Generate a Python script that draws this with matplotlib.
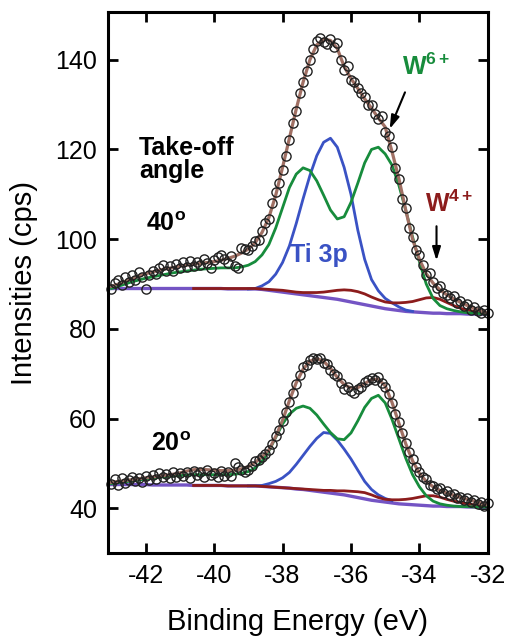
import numpy as np
import matplotlib.pyplot as plt

plt.rcParams['font.family'] = ['Liberation Sans', 'DejaVu Sans']
plt.rcParams['mathtext.fontset'] = 'custom'
plt.rcParams['mathtext.rm'] = 'Liberation Sans'
plt.rcParams['mathtext.bf'] = 'Liberation Sans:bold'
plt.rcParams['axes.unicode_minus'] = False

# Energy grids (eV)
energy_data = np.linspace(-43.0, -32.0, 111)   # measured points, 0.1 eV step
energy_fit = np.linspace(-43.0, -32.0, 56)     # fitted curves, 0.2 eV step

# Measured spectra (cps)
data_40 = [88.8, 90.3, 91.0, 89.8, 91.5, 90.4, 92.0, 91.0, 92.6, 91.5,
           88.8, 92.0, 92.8, 92.2, 93.5, 94.3, 92.8, 94.0, 93.0, 94.5,
           93.5, 94.8, 93.8, 95.2, 94.0, 95.0, 94.3, 95.5, 94.6, 93.5,
           95.3, 96.0, 96.5, 95.5, 94.6, 96.3, 94.0, 93.6, 98.0, 97.8,
           97.5, 98.5, 99.5, 99.8, 101.8, 103.5, 104.6, 108.0, 110.5, 112.5,
           115.5, 118.5, 122.0, 126.0, 128.5, 132.5, 135.0, 137.5, 140.0, 142.5,
           144.2, 144.8, 144.0, 143.5, 144.6, 142.8, 143.8, 140.0, 137.8, 138.5,
           135.5, 135.0, 133.6, 132.5, 131.8, 130.0, 129.8, 128.0, 126.8, 127.5,
           124.0, 123.0, 120.5, 115.8, 113.5, 109.0, 107.0, 102.5, 100.5, 97.5,
           96.5, 94.2, 92.0, 92.5, 90.5, 89.2, 89.5, 88.0, 87.5, 86.8,
           87.3, 85.8, 86.2, 85.0, 85.6, 84.3, 84.8, 84.0, 83.5, 84.2,
           83.5]
data_20 = [45.5, 46.5, 45.2, 46.8, 45.6, 46.3, 47.0, 46.0, 46.8, 45.8,
           47.2, 46.4, 47.5, 46.6, 47.8, 46.9, 47.6, 46.8, 48.0, 47.0,
           47.8, 47.2, 48.2, 46.8, 48.4, 47.4, 48.0, 47.0, 48.6, 47.5,
           47.8, 46.9, 48.4, 47.3, 48.0, 47.2, 50.0, 49.2, 48.6, 48.0,
           48.5, 49.5, 50.5, 50.8, 51.5, 52.0, 53.0, 54.3, 56.2, 57.5,
           59.5, 61.5, 63.8, 65.8, 67.8, 69.8, 71.5, 72.0, 73.0, 73.5,
           73.2, 73.6, 72.5, 72.2, 70.8, 70.0, 69.5, 68.0, 66.5, 67.0,
           66.2, 65.8, 66.5, 67.0, 68.2, 68.6, 69.0, 68.5, 69.2, 68.0,
           67.0, 65.5, 63.5, 61.0, 59.2, 56.8, 54.5, 52.5, 51.0, 49.2,
           48.2, 47.0, 46.5, 45.3, 45.0, 44.3, 44.6, 43.5, 43.8, 42.9,
           43.2, 42.4, 42.6, 41.8, 42.2, 41.4, 41.8, 41.0, 41.3, 40.6,
           41.2]

# Fitted envelope (total)
fit_40 = [89.5, 90.0, 90.6, 91.2, 91.8, 92.3, 92.7, 93.1, 93.4, 93.7,
          94.0, 94.2, 94.4, 94.6, 94.8, 95.0, 95.3, 95.7, 96.2, 96.9,
          97.8, 99.2, 101.5, 104.8, 109.8, 116.0, 122.5, 129.0, 135.0, 140.0,
          143.3, 144.6, 144.3, 142.5, 138.5, 135.8, 133.6, 131.3, 129.2, 127.0,
          125.0, 119.5, 113.5, 106.5, 100.0, 95.5, 92.3, 90.2, 88.7, 87.6,
          86.7, 85.9, 85.2, 84.6, 84.0, 83.5]
fit_20 = [45.8, 46.0, 46.2, 46.4, 46.6, 46.8, 47.0, 47.2, 47.4, 47.6,
          47.9, 48.3, 48.6, 48.7, 48.6, 48.5, 48.4, 48.4, 48.5, 48.8,
          49.3, 50.2, 51.5, 53.0, 56.0, 59.6, 64.0, 68.0, 71.0, 72.8,
          73.4, 72.8, 71.2, 69.2, 67.6, 66.8, 66.9, 67.8, 68.7, 68.8,
          67.3, 63.6, 59.0, 54.4, 50.6, 47.8, 46.0, 44.8, 44.0, 43.4,
          42.9, 42.4, 42.0, 41.6, 41.2, 40.8]

# W6+ doublet component
w6_40 = [89.0, 89.5, 90.0, 90.5, 90.9, 91.3, 91.6, 91.9, 92.2, 92.5,
         92.7, 92.9, 93.1, 93.3, 93.4, 93.5, 93.6, 93.6, 93.6, 93.8,
         94.2, 95.0, 96.5, 98.8, 102.5, 107.0, 111.5, 114.5, 115.9, 115.3,
         113.0, 109.8, 106.5, 104.5, 105.0, 108.2, 112.5, 117.0, 120.0, 120.5,
         119.0, 116.5, 112.0, 106.5, 100.5, 95.0, 90.0, 86.8, 85.2, 84.5,
         84.1, 83.8, 83.6, 83.5, 83.4, 83.3]
w6_20 = [45.5, 45.7, 45.9, 46.1, 46.3, 46.5, 46.7, 46.9, 47.1, 47.2,
         47.3, 47.4, 47.5, 47.5, 47.5, 47.5, 47.5, 47.5, 47.6, 47.8,
         48.2, 49.0, 50.5, 52.8, 55.8, 58.8, 61.0, 62.3, 62.8, 62.3,
         60.8, 58.8, 56.9, 55.5, 55.3, 56.8, 59.5, 62.5, 64.5, 65.2,
         63.5, 59.8, 55.5, 51.2, 47.5, 44.8, 42.8, 41.6, 41.0, 40.7,
         40.5, 40.4, 40.4, 40.3, 40.3, 40.3]

# Shirley-type background
bg_40 = [89.0, 89.0, 89.0, 89.0, 89.0, 89.0, 89.0, 89.0, 89.0, 89.0,
         89.0, 89.0, 89.0, 89.0, 89.0, 89.0, 89.0, 88.9, 88.9, 88.9,
         88.9, 88.9, 88.8, 88.6, 88.4, 88.2, 88.0, 87.8, 87.6, 87.4,
         87.2, 87.0, 86.8, 86.6, 86.3, 86.0, 85.7, 85.4, 85.1, 84.8,
         84.5, 84.3, 84.1, 83.9, 83.8, 83.7, 83.6, 83.5, 83.5, 83.4,
         83.4, 83.4, 83.3, 83.3, 83.3, 83.3]
bg_20 = [45.3, 45.3, 45.3, 45.3, 45.3, 45.3, 45.2, 45.2, 45.2, 45.2,
         45.2, 45.2, 45.1, 45.1, 45.1, 45.1, 45.1, 45.0, 45.0, 45.0,
         45.0, 45.0, 44.9, 44.8, 44.7, 44.6, 44.5, 44.3, 44.2, 44.0,
         43.8, 43.6, 43.4, 43.2, 43.0, 42.7, 42.4, 42.1, 41.8, 41.6,
         41.4, 41.2, 41.0, 40.9, 40.8, 40.7, 40.6, 40.5, 40.5, 40.4,
         40.4, 40.4, 40.3, 40.3, 40.3, 40.3]

# W4+ component (starts at -40.6 eV, index 12)
w4_40 = [89.0, 89.0, 89.0, 89.0, 89.0, 89.0, 89.0, 89.0,
         89.0, 89.0, 88.9, 88.8, 88.7, 88.6, 88.4, 88.2, 88.1, 88.1,
         88.1, 88.2, 88.4, 88.6, 88.7, 88.6, 88.3, 87.8, 87.1, 86.5,
         86.0, 85.8, 85.8, 85.9, 86.1, 86.5, 86.9, 87.0, 86.6, 85.9,
         85.2, 84.6, 84.2, 83.9, 83.6, 83.4]
w4_20 = [45.1, 45.1, 45.1, 45.1, 45.1, 45.0, 45.0, 45.0,
         45.0, 45.0, 44.9, 44.8, 44.7, 44.6, 44.5, 44.4, 44.3, 44.2,
         44.1, 44.0, 44.0, 43.9, 43.9, 43.8, 43.7, 43.5, 43.0, 42.4,
         42.0, 41.9, 41.9, 42.0, 42.2, 42.5, 42.8, 42.8, 42.5, 42.0,
         41.6, 41.3, 41.0, 40.8, 40.5, 40.3]

# Ti 3p component (starts at -39.0 eV, index 20)
ti_40 = [88.9, 89.0, 89.6, 90.5, 92.2, 94.8, 98.5, 103.5, 109.0, 114.2,
         118.6, 121.6, 122.5, 120.5, 116.0, 110.0, 102.0, 95.5, 91.0, 88.5,
         86.8, 85.8, 84.9, 84.2, 83.9]
ti_20 = [45.0, 45.0, 45.1, 45.5, 46.0, 46.8, 48.0, 49.8, 51.8, 53.8,
         55.6, 56.9, 56.7, 55.2, 53.2, 51.0, 48.5, 46.0, 44.2, 43.0,
         42.2, 41.7]

# Colours
c_fit = '#a07064'
c_w6 = '#178c3c'
c_ti = '#3a52c4'
c_w4 = '#8c1c1c'
c_bg = '#7454c4'

fig, ax = plt.subplots(figsize=(5.05, 6.41), dpi=100)
fig.subplots_adjust(left=0.214, right=0.966, bottom=0.137, top=0.981)

lw = 2.0
for bg, w4, ti, w6, fit, data in [(bg_40, w4_40, ti_40, w6_40, fit_40, data_40),
                                   (bg_20, w4_20, ti_20, w6_20, fit_20, data_20)]:
    ax.plot(energy_fit, bg, color=c_bg, lw=lw + 0.4)
    ax.plot(energy_fit[20:20 + len(ti)], ti, color=c_ti, lw=lw)
    ax.plot(energy_fit[12:12 + len(w4)], w4, color=c_w4, lw=lw)
    ax.plot(energy_fit, w6, color=c_w6, lw=lw)
    ax.plot(energy_fit, fit, color=c_fit, lw=lw + 0.3)
    ax.plot(energy_data, data, 'o', mfc='none', mec='#202020', ms=6.6, mew=1.0,
            clip_on=False)

# Axes
ax.set_xlim(-43.1, -32)
ax.set_ylim(30, 150.6)
ax.set_xticks([-42, -40, -38, -36, -34, -32])
ax.set_yticks([40, 60, 80, 100, 120, 140])
ax.tick_params(direction='in', length=7, width=2, labelsize=18,
               top=True, right=True, pad=8)
for s in ax.spines.values():
    s.set_linewidth(2.2)
ax.set_xlabel('Binding Energy (eV)', fontsize=21, labelpad=14)
ax.set_ylabel('Intensities (cps)', fontsize=21, labelpad=12)

# Annotations
ax.text(-42.2, 118.8, 'Take-off', fontsize=18, fontweight='bold')
ax.text(-42.2, 113.6, 'angle', fontsize=18, fontweight='bold')
ax.text(-42.0, 101.8, r'$\mathbf{40^{o}}$', fontsize=18)
ax.text(-41.85, 52.8, r'$\mathbf{20^{o}}$', fontsize=18)
ax.text(-37.77, 95.0, 'Ti 3p', fontsize=18, fontweight='bold', color=c_ti)
ax.text(-34.5, 136.6, r'$\mathbf{W^{6+}}$', fontsize=18, color=c_w6)
ax.text(-33.84, 106.0, r'$\mathbf{W^{4+}}$', fontsize=18, color=c_w4)

arrow = dict(arrowstyle='-|>,head_width=0.25,head_length=0.8', color='black', lw=1.5)
ax.annotate('', xy=(-34.9, 124.0), xytext=(-34.39, 133.3), arrowprops=arrow)
ax.annotate('', xy=(-33.5, 94.6), xytext=(-33.5, 103.5), arrowprops=arrow)

plt.savefig('out.png', dpi=100)
